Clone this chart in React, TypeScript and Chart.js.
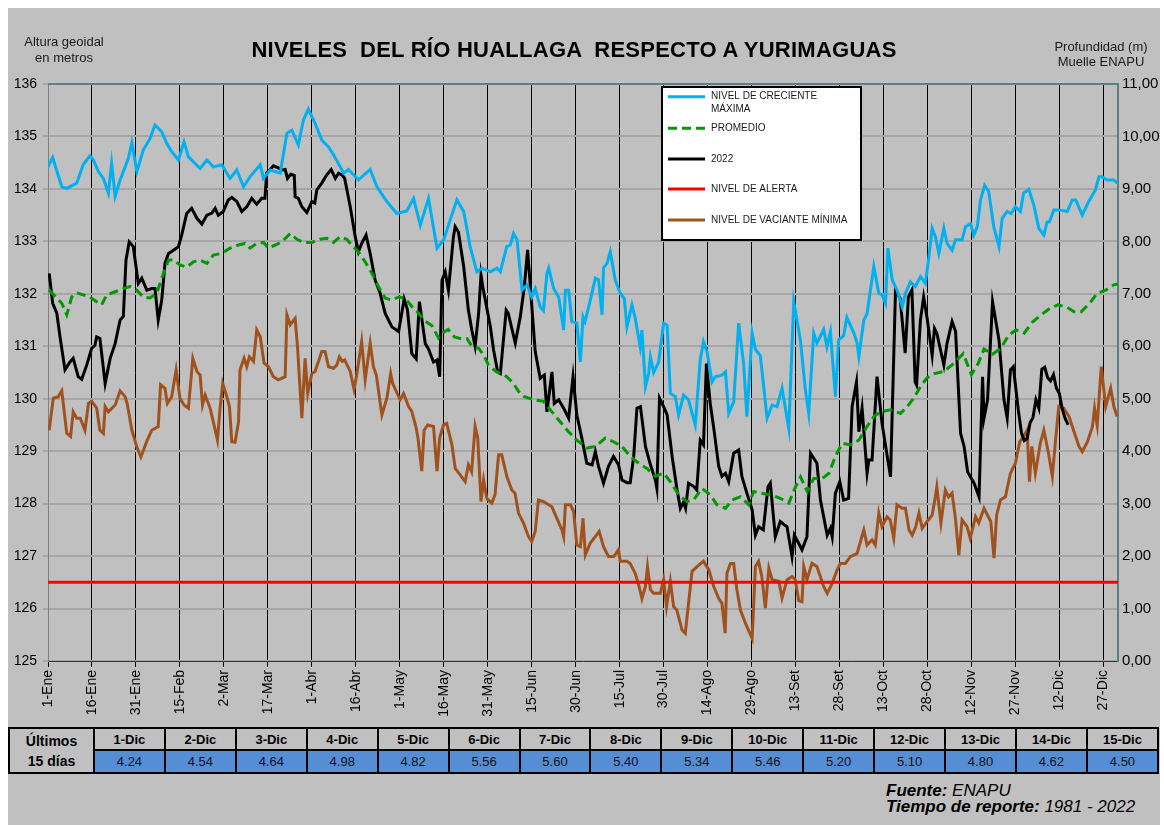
import React, { useEffect, useRef } from 'react';
import { Chart, registerables } from 'chart.js';

Chart.register(...registerables);

const FONT = '"Liberation Sans", Arial, Helvetica, sans-serif';

// X axis tick labels (every 15 days) and their day-of-year positions
const tickLabels = ['1-Ene', '16-Ene', '31-Ene', '15-Feb', '2-Mar', '17-Mar', '1-Abr', '16-Abr', '1-May', '16-May', '31-May', '15-Jun', '30-Jun', '15-Jul', '30-Jul', '14-Ago', '29-Ago', '13-Set', '28-Set', '13-Oct', '28-Oct', '12-Nov', '27-Nov', '12-Dic', '27-Dic'];
const tickDays = [0, 15, 30, 45, 60, 75, 90, 105, 120, 135, 150, 165, 180, 195, 210, 225, 240, 255, 270, 285, 300, 315, 330, 345, 360];

// [day of year, level (m)]
const crecienteMaxima: number[][] = [
  [0, 134.42], [1.6, 134.6], [4.7, 134.04], [6.4, 134.01], [9.8, 134.11], [12, 134.46], [14.3, 134.63], [15.5, 134.55], [17.2, 134.33], [18.9, 134.2], [20.6, 133.92], [21.7, 134.49], [22.9, 133.86], [24.6, 134.17], [27.4, 134.58], [28.6, 134.88], [30.3, 134.33], [32.5, 134.74], [34.8, 134.96], [36.5, 135.22], [38.8, 135.09], [40.5, 134.87], [42.2, 134.71], [44.5, 134.55], [46.4, 134.9], [47.9, 134.61], [51.9, 134.39], [54.2, 134.55], [56.4, 134.42], [59.3, 134.46], [62.1, 134.2], [64.4, 134.36], [66.7, 134.04], [68.9, 134.23], [72.4, 134.46], [73.5, 134.2], [75.8, 134.36], [79.2, 134.3], [81.5, 135.06], [83.2, 135.12], [85.4, 134.84], [87.1, 135.31], [88.8, 135.52], [91.1, 135.25], [93.4, 134.93], [95.7, 134.8], [97.4, 134.65], [99.7, 134.42], [100.8, 134.3], [102.5, 134.37], [105.9, 134.17], [109.9, 134.37], [112.2, 134.04], [115.6, 133.76], [119, 133.53], [122.4, 133.58], [124.7, 133.82], [127, 133.31], [129.8, 133.82], [132.7, 132.87], [135, 133.03], [137.2, 133.41], [139.5, 133.79], [141.8, 133.57], [144, 132.9], [146.3, 132.42], [148, 132.49], [150.9, 132.42], [153.1, 132.49], [154.3, 132.42], [156.5, 132.9], [157.7, 132.93], [158.8, 133.15], [160, 133.03], [161.7, 132.07], [163.4, 132.17], [165, 131.94], [166.2, 132.1], [167.9, 131.75], [169, 131.68], [170.2, 132.39], [170.8, 132.49], [172.5, 132.1], [174.2, 131.94], [175.9, 131.31], [176.5, 132.07], [177.6, 132.07], [178.7, 131.47], [180.4, 131.44], [181.6, 130.7], [182.5, 131.56], [183.2, 131.47], [185, 131.88], [186.7, 132.3], [187.8, 132.27], [189, 131.6], [189.5, 132.49], [190.7, 132.58], [191.8, 132.8], [193.5, 132.26], [195.2, 132.01], [196.6, 131.91], [197.5, 131.37], [199.2, 131.79], [200.3, 131.54], [202, 130.99], [202.6, 131.31], [203.8, 130.23], [204.9, 130.48], [205.5, 130.8], [206.6, 130.5], [208.3, 130.7], [210, 131.44], [211.2, 131.4], [212.3, 130.1], [214, 130.04], [215.1, 129.69], [216.8, 130.07], [218.5, 129.98], [220.8, 129.5], [222.5, 130.74], [223.6, 131.09], [224.8, 130.9], [226.5, 130.32], [227.6, 130.42], [229.9, 130.45], [231.1, 130.51], [232.2, 129.72], [233.9, 129.94], [235.6, 131.44], [237.3, 130.67], [238.4, 129.66], [240.2, 131.25], [241.3, 130.94], [243, 130.82], [245.3, 129.63], [247, 129.88], [248.7, 129.85], [250.4, 130.2], [252.7, 129.43], [254.4, 131.85], [256.7, 131.1], [258.3, 130.2], [259.5, 129.72], [261.2, 131.25], [262.3, 131.06], [264.6, 131.32], [265.7, 130.99], [266.9, 131.28], [268.6, 130.04], [269.7, 131.12], [271.4, 131.2], [272.5, 131.55], [274.9, 131.25], [276, 131.06], [276.6, 130.8], [278.3, 131.5], [279.4, 131.62], [281.7, 132.52], [283.4, 132.01], [284.5, 131.98], [285.7, 131.82], [286.5, 132.87], [288, 132.26], [289.6, 132.07], [291.4, 131.75], [292.5, 132.01], [294.2, 132.23], [295.9, 132.14], [297.6, 132.33], [299.3, 132.2], [300.5, 132.71], [301.6, 133.25], [302.7, 133.09], [303.9, 132.77], [305.6, 133.25], [306.7, 132.96], [308.4, 132.83], [309.6, 133.03], [311.8, 133.03], [313, 133.28], [314.7, 133.34], [315.8, 133.12], [317, 133.28], [318.1, 133.79], [319.5, 134.07], [320.9, 133.95], [322.6, 133.28], [324.4, 132.9], [325.5, 133.44], [327.2, 133.57], [328.5, 133.53], [330, 133.66], [331.7, 133.57], [332.8, 133.92], [334.6, 133.99], [336.3, 133.69], [338, 133.25], [339.7, 133.12], [340.8, 133.37], [341.6, 133.37], [343.1, 133.6], [344.9, 133.6], [347.7, 133.57], [349.4, 133.79], [350.6, 133.79], [352.8, 133.5], [355, 133.76], [357.3, 133.98], [358.5, 134.23], [359.6, 134.23], [361.3, 134.17], [363.6, 134.17], [364.7, 134.11],
];

const promedio: number[][] = [
  [0.4, 132.07], [3, 131.92], [4.7, 131.82], [6.4, 131.6], [8.1, 131.94], [9.8, 132.02], [12, 131.98], [14.3, 131.94], [16.6, 131.85], [18.3, 131.79], [20, 131.98], [22.9, 132.04], [25.7, 132.1], [28, 132.14], [30.3, 132.07], [32.5, 131.94], [34.8, 131.92], [37.1, 132.01], [39.4, 132.39], [41.1, 132.64], [42.8, 132.65], [45, 132.55], [47.3, 132.51], [49.6, 132.61], [51.9, 132.64], [54.2, 132.58], [56.4, 132.74], [59.3, 132.77], [62.1, 132.87], [64.9, 132.93], [67.2, 132.96], [68.9, 132.87], [71.2, 132.96], [73.5, 132.98], [75.2, 132.87], [77.5, 132.93], [79.8, 132.99], [82.6, 133.15], [84.9, 133.04], [87.1, 132.98], [90, 132.98], [92.8, 133.04], [95.1, 133.06], [97.4, 132.98], [99.7, 133.09], [101.9, 133.04], [103.6, 132.93], [105.9, 132.8], [108.2, 132.61], [110.5, 132.39], [112.7, 132.14], [115, 131.92], [117.3, 131.88], [119.6, 131.94], [121.8, 131.92], [124.1, 131.76], [126.4, 131.63], [128.7, 131.48], [131, 131.39], [133.2, 131.16], [135, 131.27], [136.5, 131.32], [138.6, 131.18], [140.6, 131.15], [142.9, 131.15], [144.6, 131], [146.9, 130.96], [148.6, 130.83], [150.3, 130.64], [151.4, 130.58], [153.1, 130.51], [154.3, 130.48], [156.5, 130.42], [158.8, 130.29], [160.5, 130.14], [162.5, 130.04], [165.6, 129.98], [169, 129.95], [171.9, 129.75], [174.7, 129.56], [177.6, 129.37], [180.4, 129.21], [183.8, 129.06], [186.7, 129.09], [190.1, 129.25], [192.9, 129.18], [195.8, 129.09], [198.6, 128.9], [201.5, 128.77], [204.3, 128.67], [207.2, 128.52], [210, 128.58], [212.3, 128.42], [215.1, 128.17], [217.9, 128.04], [220.2, 128.07], [223.1, 128.29], [225.9, 128.17], [228.2, 127.98], [231.1, 127.91], [233.3, 128.07], [236.2, 128.13], [239, 127.98], [240.7, 128.23], [243, 128.2], [246.4, 128.17], [249.8, 128.1], [252.7, 128.01], [255, 128.32], [256.7, 128.51], [259, 128.23], [261.2, 128.48], [264.1, 128.48], [266.4, 128.58], [268.6, 128.9], [270.9, 129.15], [273.8, 129.12], [276.6, 129.21], [279.4, 129.47], [281.7, 129.66], [284, 129.75], [287.4, 129.79], [290.8, 129.72], [293.1, 129.85], [295.3, 130.01], [297.6, 130.23], [299.9, 130.4], [302.4, 130.48], [305.6, 130.52], [308.7, 130.66], [312.2, 130.86], [315, 130.46], [317.3, 130.67], [319.3, 130.95], [322.2, 130.85], [325, 130.96], [327.8, 131.22], [330.3, 131.31], [333, 131.25], [335.8, 131.46], [338.8, 131.6], [341.7, 131.72], [344.5, 131.79], [347.7, 131.74], [350, 131.66], [352.5, 131.66], [355.5, 131.83], [357.9, 132.01], [360.8, 132.07], [363.6, 132.17], [365, 132.19],
];

const nivel2022: number[][] = [
  [0.4, 132.39], [1.6, 131.82], [3, 131.63], [4.1, 131.18], [5.8, 130.55], [7.5, 130.7], [8.6, 130.77], [10.3, 130.42], [11.5, 130.37], [13.2, 130.64], [14.9, 130.96], [16, 131.02], [16.6, 131.18], [17.7, 131.15], [19.5, 130.29], [21.2, 130.77], [22.9, 131.05], [24.6, 131.5], [25.7, 131.57], [26.6, 132.64], [27.7, 132.99], [29.1, 132.9], [30.8, 132.2], [32, 132.3], [33.7, 132.07], [35.4, 132.1], [36.5, 132.1], [37.6, 131.5], [38.8, 131.88], [39.9, 132.58], [41.1, 132.77], [42.8, 132.83], [44.5, 132.9], [45.6, 133.12], [47.3, 133.53], [49, 133.63], [50.8, 133.44], [52.5, 133.33], [54.2, 133.5], [55.9, 133.54], [57, 133.63], [58.1, 133.5], [59.8, 133.57], [61.5, 133.79], [62.7, 133.84], [64.4, 133.76], [66.1, 133.57], [67.8, 133.66], [69.5, 133.82], [71.2, 133.71], [72.9, 133.82], [74, 133.82], [74.6, 134.3], [76.9, 134.44], [78.6, 134.4], [79.8, 134.36], [80.9, 134.37], [81.7, 134.2], [82.8, 134.28], [84, 134.26], [84.3, 133.85], [85.4, 133.82], [86.6, 133.66], [88.3, 133.55], [90, 133.76], [91, 133.73], [91.7, 133.98], [93.4, 134.11], [95.1, 134.27], [96.6, 134.37], [98, 134.2], [99.1, 134.3], [100.4, 134.26], [101.2, 134.2], [103.1, 133.66], [104.8, 133.09], [105.9, 132.8], [107, 132.96], [108.5, 133.12], [109.9, 132.77], [111.6, 132.26], [113.3, 132.01], [115, 131.63], [117.3, 131.37], [119.6, 131.28], [121.5, 131.9], [122.6, 131.7], [124.1, 130.86], [125.6, 130.76], [126.7, 131.85], [128.7, 131.05], [129.8, 130.95], [131.5, 130.7], [132.7, 130.74], [133.6, 130.42], [134.4, 132.26], [135.5, 132.42], [136.6, 132.07], [138.3, 133.09], [138.9, 133.28], [140, 133.18], [141.8, 132.52], [143.4, 131.69], [144.6, 131.3], [145.7, 131.0], [146.9, 131.63], [147.7, 132.36], [148.3, 132.14], [150.9, 131.37], [152, 130.93], [153.4, 130.51], [154.3, 130.48], [156.3, 131.69], [157, 131.63], [159.4, 131.06], [161.1, 131.56], [162.5, 132.14], [163.6, 132.84], [164.8, 131.94], [166.2, 130.9], [167.9, 130.39], [169.3, 130.45], [170.2, 129.75], [171.9, 130.51], [172.7, 129.91], [174.2, 129.98], [175.9, 129.82], [177.6, 129.63], [179.1, 130.42], [180.4, 129.69], [182.1, 129.25], [183.8, 128.77], [185.6, 128.74], [186.7, 128.99], [187.8, 128.71], [189.5, 128.39], [191.2, 128.71], [192.9, 128.9], [194.6, 128.74], [195.8, 128.45], [197.5, 128.4], [198.6, 128.4], [199.8, 128.9], [200.9, 129.82], [202.1, 129.85], [203.8, 129.09], [205.5, 128.74], [207.2, 128.45], [207.7, 128.29], [208.6, 130.01], [210, 129.85], [211.2, 129.69], [212.9, 128.9], [214.6, 128.26], [215.7, 127.91], [216.8, 128.03], [217.5, 127.91], [218.5, 128.39], [220.2, 128.33], [221.3, 128.26], [222.5, 129.21], [223.6, 129.12], [224.6, 130.67], [225.9, 129.91], [227.1, 129.44], [228.8, 128.71], [229.9, 128.52], [231.1, 128.58], [232.2, 128.42], [233.9, 128.96], [235.6, 129.02], [236.7, 128.52], [238.4, 128.2], [240.2, 127.88], [241.3, 127.4], [242.4, 127.56], [244, 127.5], [245.6, 128.32], [246.4, 128.39], [248.1, 127.37], [249.8, 127.66], [252.1, 127.56], [253.8, 126.99], [254.6, 127.4], [257.2, 127.12], [258.9, 127.37], [260.1, 128.96], [262.3, 128.77], [263.5, 128.07], [265.8, 127.4], [266.9, 127.53], [267.5, 127.37], [268.6, 128.2], [270.1, 128.42], [271.4, 128.07], [273.1, 128.1], [274.3, 129.85], [275.8, 130.32], [276.6, 129.37], [277.7, 129.82], [279.4, 128.58], [280, 128.83], [281.1, 128.83], [282.8, 130.42], [284.5, 129.53], [287.4, 128.51], [289.1, 132.07], [290.7, 131.91], [292.4, 130.87], [293.5, 131.94], [294.7, 132.07], [295.8, 130.32], [296.3, 130.26], [297.6, 131.5], [298.7, 131.94], [299.9, 131.53], [301.6, 130.83], [302.4, 131.34], [303.2, 131.25], [305.6, 130.64], [306.7, 131.06], [308.4, 131.47], [309.6, 131.28], [311.3, 129.34], [312.5, 129.09], [313.7, 128.61], [315.9, 128.39], [317.6, 128.13], [318.8, 130.42], [319.3, 129.63], [320.5, 129.98], [322.2, 131.85], [324.4, 131.12], [326.1, 129.98], [327.2, 129.63], [328.3, 130.55], [329.3, 130.61], [331, 129.78], [332.1, 129.34], [333, 129.2], [334, 129.24], [335, 129.54], [336, 129.64], [337, 129.98], [338, 129.82], [339, 130.56], [340, 130.6], [341, 130.4], [342, 130.34], [343, 130.46], [344, 130.2], [345, 130.1], [346, 129.8], [347, 129.62], [348, 129.5],
];

const nivelAlerta: number[][] = [[0, 126.5], [365, 126.5]];

const vacianteMinima: number[][] = [
  [0.4, 129.4], [1.8, 130.01], [3.5, 130.04], [4.7, 130.15], [6.4, 129.34], [7.7, 129.28], [8.6, 129.75], [9.8, 129.63], [11, 129.63], [12.6, 129.4], [13.8, 129.91], [14.9, 129.95], [16.6, 129.82], [17.7, 129.4], [18.9, 129.34], [19.5, 129.85], [20.6, 129.75], [22.9, 129.88], [24.6, 130.15], [26.3, 130.04], [27, 129.91], [28.6, 129.4], [30.3, 129.08], [31.7, 128.89], [33.7, 129.19], [35.4, 129.4], [37.6, 129.47], [38.4, 130.27], [39.9, 130.2], [40.7, 129.91], [42.2, 130.04], [43.7, 130.55], [45, 130.01], [46.4, 129.88], [47.9, 129.82], [49.4, 130.77], [50.8, 130.52], [51.9, 130.45], [52.7, 129.88], [53.6, 130.07], [55.3, 129.82], [56.4, 129.56], [57.8, 129.21], [58.7, 129.82], [59.6, 130.29], [61, 130.04], [61.9, 129.85], [62.7, 129.18], [63.8, 129.17], [65, 129.56], [65.5, 130.55], [66.9, 130.77], [67.8, 130.61], [68.7, 130.8], [70.1, 130.71], [71.2, 131.31], [72.4, 131.18], [73.7, 130.68], [75.2, 130.61], [76.9, 130.42], [78.6, 130.36], [80.9, 130.42], [81.5, 131.6], [82.6, 131.41], [84.3, 131.53], [85.1, 131], [86.6, 129.63], [87.7, 130.77], [88.6, 130.1], [90, 130.48], [91.1, 130.52], [93.4, 130.9], [94.5, 130.9], [95.7, 130.61], [97.4, 130.58], [98.5, 130.64], [99.4, 130.8], [100.4, 130.71], [101.2, 130.74], [103.1, 130.52], [104.4, 130.18], [105.2, 130.42], [107, 131.09], [108.2, 130.36], [109.9, 131.06], [111, 130.61], [112, 130.45], [113.9, 129.69], [115.6, 130.01], [116.9, 130.48], [117.6, 130.29], [120.1, 129.98], [121.3, 130.1], [123, 129.85], [124.1, 129.76], [125.6, 129.44], [126.2, 129.25], [127.5, 128.62], [128.3, 129.4], [129.5, 129.5], [131.5, 129.47], [132.7, 128.62], [133.6, 129.25], [134.9, 129.5], [136, 129.53], [137.8, 129.12], [138.9, 128.67], [140.6, 128.55], [142.3, 128.42], [143.4, 128.74], [144.5, 128.61], [145.7, 129.47], [146.6, 129.25], [147.7, 128.04], [148.6, 128.45], [149.7, 128.1], [151.4, 128.01], [152.5, 128.17], [153.7, 128.93], [154.8, 128.93], [156.5, 128.52], [158.2, 128.26], [159.3, 128.2], [160.5, 127.82], [162.2, 127.63], [163.9, 127.37], [165, 127.28], [166.2, 127.47], [167.3, 128.07], [169, 128.04], [171.9, 127.94], [173.6, 127.72], [175.3, 127.5], [175.9, 127.37], [176.5, 127.98], [178.2, 127.98], [179.3, 127.85], [180.4, 127.21], [181.6, 127.18], [182.5, 127.72], [183.3, 127.02], [185, 127.25], [186.7, 127.37], [188, 127.47], [189.5, 127.18], [191.2, 126.99], [193, 126.99], [194.6, 127.12], [195.2, 126.9], [197.5, 126.9], [198.6, 126.86], [200.3, 126.67], [201.5, 126.45], [202.6, 126.19], [203.8, 126.42], [204.5, 126.8], [205.5, 126.36], [206.6, 126.29], [208.9, 126.29], [210, 126.55], [211, 126.04], [212.3, 126.52], [213.4, 126.04], [214.5, 125.97], [216.3, 125.59], [217.4, 125.53], [218.5, 126.1], [219.7, 126.71], [221.4, 126.8], [223.6, 126.9], [225.4, 126.74], [227.1, 126.42], [228.8, 126.19], [229.9, 126.1], [231, 125.53], [231.6, 126.67], [232.8, 126.86], [233.9, 126.86], [235, 126.36], [236.2, 125.97], [237.9, 125.72], [240.2, 125.43], [241.3, 126.8], [242.4, 126.9], [243.5, 126.61], [244.7, 126.01], [245.9, 126.77], [247, 126.55], [249.3, 126.52], [250.4, 126.2], [252.1, 126.55], [253.8, 126.61], [254.9, 126.55], [256.1, 126.15], [257.2, 126.13], [257.8, 126.8], [258.9, 126.55], [260.6, 126.86], [262.3, 126.8], [264.6, 126.42], [265.8, 126.29], [267.5, 126.48], [269.2, 126.74], [270.3, 126.86], [272, 126.86], [273.7, 126.99], [276, 127.05], [278.3, 127.5], [279.4, 127.21], [281.1, 127.31], [282.2, 127.21], [283.4, 127.82], [284.5, 127.56], [286.2, 127.75], [287.3, 127.69], [288.5, 127.34], [289.6, 127.98], [291.4, 127.91], [292.5, 127.91], [293.7, 127.5], [294.8, 127.4], [296, 127.56], [297.1, 127.82], [298.2, 127.53], [299.9, 127.66], [301.6, 127.78], [302.7, 128.13], [303.2, 128.32], [304.6, 127.63], [306.1, 128.26], [307.2, 128.13], [308.4, 128.2], [309.6, 127.69], [310.7, 127.02], [311.8, 127.69], [313.5, 127.56], [314.6, 127.34], [316.4, 127.75], [317.5, 127.63], [319.3, 127.91], [321.6, 127.66], [322.7, 126.96], [323.6, 127.78], [324.9, 128.07], [326.6, 128.13], [328.3, 128.58], [330, 128.77], [331.5, 129.18], [332.8, 129.28], [334, 129.4], [334.8, 128.42], [335.6, 129.09], [336.8, 128.58], [338.5, 129.15], [339.7, 129.4], [341.3, 128.96], [342.6, 128.52], [343.7, 129.21], [344.8, 129.85], [346.5, 129.82], [348.3, 129.66], [350, 129.37], [351.7, 129.09], [352.8, 128.99], [354.6, 129.18], [356.3, 129.47], [357, 129.82], [357.9, 129.5], [359.3, 130.61], [360.8, 129.85], [362.5, 130.2], [363.6, 129.85], [364.7, 129.66],
];

// Last 15 days table
const ultimosDias = ['1-Dic', '2-Dic', '3-Dic', '4-Dic', '5-Dic', '6-Dic', '7-Dic', '8-Dic', '9-Dic', '10-Dic', '11-Dic', '12-Dic', '13-Dic', '14-Dic', '15-Dic'];
const ultimosValores = ['4.24', '4.54', '4.64', '4.98', '4.82', '5.56', '5.60', '5.40', '5.34', '5.46', '5.20', '5.10', '4.80', '4.62', '4.50'];

const toXY = (arr: number[][]) => arr.map(([x, y]) => ({ x, y }));

const topBorder = {
  id: 'topBorder',
  beforeDatasetsDraw(chart: any) {
    const { ctx, chartArea } = chart;
    ctx.save();
    ctx.strokeStyle = '#5f8080';
    ctx.lineWidth = 2;
    ctx.beginPath();
    ctx.moveTo(chartArea.left, chartArea.top);
    ctx.lineTo(chartArea.right, chartArea.top);
    ctx.stroke();
    ctx.restore();
  },
};

const boxLegend = {
  id: 'boxLegend',
  afterDraw(chart: any) {
    const ctx = chart.ctx as CanvasRenderingContext2D;
    const bx = 654, by = 79, bw = 199, bh = 153;
    const rows = [9.7, 41.3, 72, 102, 133];
    ctx.save();
    ctx.fillStyle = '#ffffff';
    ctx.fillRect(bx, by, bw, bh);
    ctx.strokeStyle = '#000000';
    ctx.lineWidth = 2;
    ctx.setLineDash([]);
    ctx.strokeRect(bx, by, bw, bh);
    chart.data.datasets.forEach((ds: any, i: number) => {
      const y = by + rows[i];
      ctx.beginPath();
      ctx.setLineDash(ds.borderDash || []);
      ctx.strokeStyle = ds.borderColor;
      ctx.lineWidth = 3;
      ctx.moveTo(bx + 6, y);
      ctx.lineTo(bx + 43, y);
      ctx.stroke();
      ctx.setLineDash([]);
      ctx.fillStyle = '#1a1a1a';
      ctx.font = `10px ${FONT}`;
      ctx.textBaseline = 'middle';
      ctx.textAlign = 'left';
      String(ds.label).split('\n').forEach((t: string, k: number) => ctx.fillText(t, bx + 49, y + k * 12.6));
    });
    ctx.restore();
  },
};

function RiverChart() {
  const ref = useRef<HTMLCanvasElement | null>(null);
  useEffect(() => {
    if (!ref.current) return;
    const chart = new Chart(ref.current, {
      type: 'line',
      data: {
        datasets: [
          { label: 'NIVEL DE CRECIENTE\nMÁXIMA', data: toXY(crecienteMaxima), borderColor: '#00b0f0', borderWidth: 3, pointRadius: 0, tension: 0 },
          { label: 'PROMEDIO', data: toXY(promedio), borderColor: '#009a00', borderWidth: 3, borderDash: [9, 5], pointRadius: 0, tension: 0 },
          { label: '2022', data: toXY(nivel2022), borderColor: '#000000', borderWidth: 3, pointRadius: 0, tension: 0 },
          { label: 'NIVEL DE ALERTA', data: toXY(nivelAlerta), borderColor: '#ff0000', borderWidth: 3, pointRadius: 0, tension: 0 },
          { label: 'NIVEL DE VACIANTE MÍNIMA', data: toXY(vacianteMinima), borderColor: '#a0521e', borderWidth: 3, pointRadius: 0, tension: 0 },
        ],
      },
      options: {
        animation: false,
        responsive: false,
        maintainAspectRatio: false,
        events: [],
        layout: { padding: { top: 76, left: 0, right: 0, bottom: 0 } },
        plugins: { legend: { display: false }, tooltip: { enabled: false } },
        scales: {
          x: {
            type: 'linear',
            min: 0,
            max: 365,
            afterBuildTicks: (s: any) => { s.ticks = tickDays.map((v) => ({ value: v })); },
            afterFit: (s: any) => { s.height = 59; },
            ticks: {
              autoSkip: false,
              minRotation: 90,
              maxRotation: 90,
              padding: 3,
              color: '#000',
              font: { family: FONT, size: 14 },
              callback: (_v: any, i: number) => tickLabels[i],
            },
            grid: { color: '#000', lineWidth: 1, tickLength: 6, tickColor: '#000' },
            border: { color: '#333', width: 1 },
          },
          y: {
            position: 'left',
            min: 125,
            max: 136,
            afterFit: (s: any) => { s.width = 40; },
            ticks: { stepSize: 1, padding: 6, color: '#000', font: { family: FONT, size: 14 } },
            grid: { color: '#a6a6a6', lineWidth: 2, tickLength: 5, tickColor: '#a6a6a6' },
            border: { color: '#808080', width: 1 },
          },
          y2: {
            position: 'right',
            min: 0,
            max: 11,
            afterFit: (s: any) => { s.width = 42; },
            ticks: {
              stepSize: 1,
              padding: 4,
              color: '#000',
              font: { family: FONT, size: 15 },
              callback: (v: any) => Number(v).toFixed(2).replace('.', ','),
            },
            grid: { drawOnChartArea: false, drawTicks: false },
            border: { color: '#5f8080', width: 2 },
          },
        },
      },
      plugins: [topBorder, boxLegend],
    } as any);
    return () => chart.destroy();
  }, []);
  return <canvas ref={ref} width={1152} height={712} style={{ position: 'absolute', left: 0, top: 0, width: 1152, height: 712 }} />;
}

export default function App() {
  const cellB: React.CSSProperties = { border: '2px solid #000', textAlign: 'center', padding: 0 };
  return (
    <div style={{ position: 'absolute', left: 8, top: 8, width: 1152, height: 817, background: '#c0c0c0', fontFamily: FONT, color: '#000', overflow: 'hidden' }}>
      <RiverChart />
      <div style={{ position: 'absolute', left: 166, top: 29, width: 800, textAlign: 'center', fontSize: 22, letterSpacing: '0.25px', fontWeight: 'bold', lineHeight: '26px', whiteSpace: 'pre' }}>
        {'NIVELES  DEL RÍO HUALLAGA  RESPECTO A YURIMAGUAS'}
      </div>
      <div style={{ position: 'absolute', left: 0, top: 26, width: 112, textAlign: 'center', fontSize: 13, lineHeight: '15.5px', color: '#1a1a1a' }}>
        Altura geoidal<br />en metros
      </div>
      <div style={{ position: 'absolute', left: 1033, top: 31, width: 120, textAlign: 'center', fontSize: 13, lineHeight: '15px', color: '#1a1a1a' }}>
        Profundidad (m)<br />Muelle ENAPU
      </div>
      <table style={{ position: 'absolute', left: 0, top: 719, width: 1151, borderCollapse: 'collapse', tableLayout: 'fixed', fontFamily: FONT }}>
        <colgroup>
          <col style={{ width: 85 }} />
          {ultimosDias.map((d) => <col key={d} />)}
        </colgroup>
        <tbody>
          <tr style={{ height: 22 }}>
            <td rowSpan={2} style={{ ...cellB, fontWeight: 'bold', fontSize: 14, lineHeight: '20px', background: '#c0c0c0' }}>Últimos<br />15 días</td>
            {ultimosDias.map((d) => (
              <td key={d} style={{ ...cellB, fontWeight: 'bold', fontSize: 13, background: '#c0c0c0' }}>{d}</td>
            ))}
          </tr>
          <tr style={{ height: 23 }}>
            {ultimosValores.map((v, i) => (
              <td key={i} style={{ ...cellB, fontSize: 13, background: '#558ed5', color: '#111' }}>{v}</td>
            ))}
          </tr>
        </tbody>
      </table>
      <div style={{ position: 'absolute', left: 878, top: 775, fontSize: 17, lineHeight: '15.5px', fontStyle: 'italic', whiteSpace: 'nowrap' }}>
        <div><b>Fuente:</b> ENAPU</div>
        <div><b>Tiempo de reporte:</b> 1981 - 2022</div>
      </div>
    </div>
  );
}
